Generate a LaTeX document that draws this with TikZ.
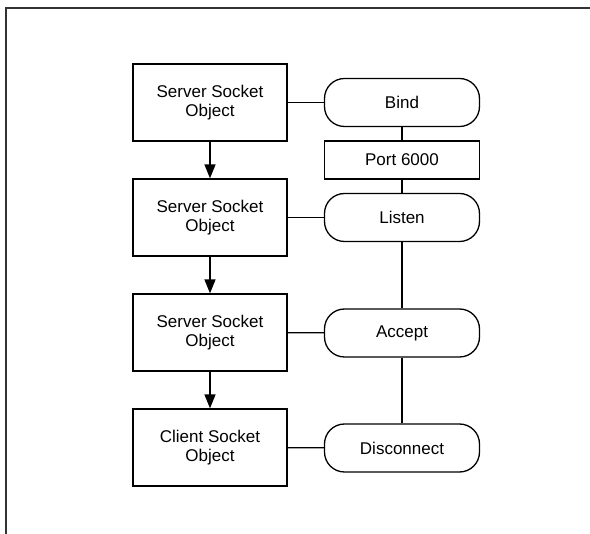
\documentclass[tikz,border=0pt]{standalone}
\usepackage{fontspec}
\setmainfont{Liberation Sans}
\usetikzlibrary{arrows.meta}
\tikzset{
  objbox/.style={draw,line width=1.3pt,minimum width=154pt,minimum height=77pt,align=center,font=\fontsize{17}{19.5}\selectfont},
  stepround/.style={draw,line width=1.3pt,rounded corners=20pt,minimum width=155pt,minimum height=48pt,align=center,font=\fontsize{17}{19.5}\selectfont},
  portbox/.style={draw,line width=1.3pt,minimum width=155pt,minimum height=38pt,font=\fontsize{17}{19.5}\selectfont},
  link/.style={line width=1.3pt},
  flow/.style={line width=1.5pt,-{Triangle[length=14pt,width=11pt]}}
}
\begin{document}
\begin{tikzpicture}[x=1pt,y=-1pt]
\useasboundingbox (0,0) rectangle (590,534);
\draw[line width=2pt,black!80] (590,8) -- (6,8) -- (6,534);
% socket objects
\node[objbox] (srv1) at (210,102.5) {Server Socket\\Object};
\node[objbox] (srv2) at (210,217.5) {Server Socket\\Object};
\node[objbox] (srv3) at (210,332.5) {Server Socket\\Object};
\node[objbox] (cli) at (210,447.5) {Client Socket\\Object};
% operations
\node[stepround] (bind) at (402,102.5) {Bind};
\node[portbox] (port) at (402,160) {Port 6000};
\node[stepround] (listen) at (402,217.5) {Listen};
\node[stepround] (accept) at (402,333) {Accept};
\node[stepround] (disc) at (402,448) {Disconnect};
\draw[flow] (srv1) -- (srv2);
\draw[flow] (srv2) -- (srv3);
\draw[flow] (srv3) -- (cli);
\draw[link] (srv1) -- (bind);
\draw[link] (srv2) -- (listen);
\draw[link] (srv3) -- (accept);
\draw[link] (cli) -- (disc);
\draw[link] (bind) -- (port) -- (listen) -- (accept) -- (disc);
\end{tikzpicture}
\end{document}
